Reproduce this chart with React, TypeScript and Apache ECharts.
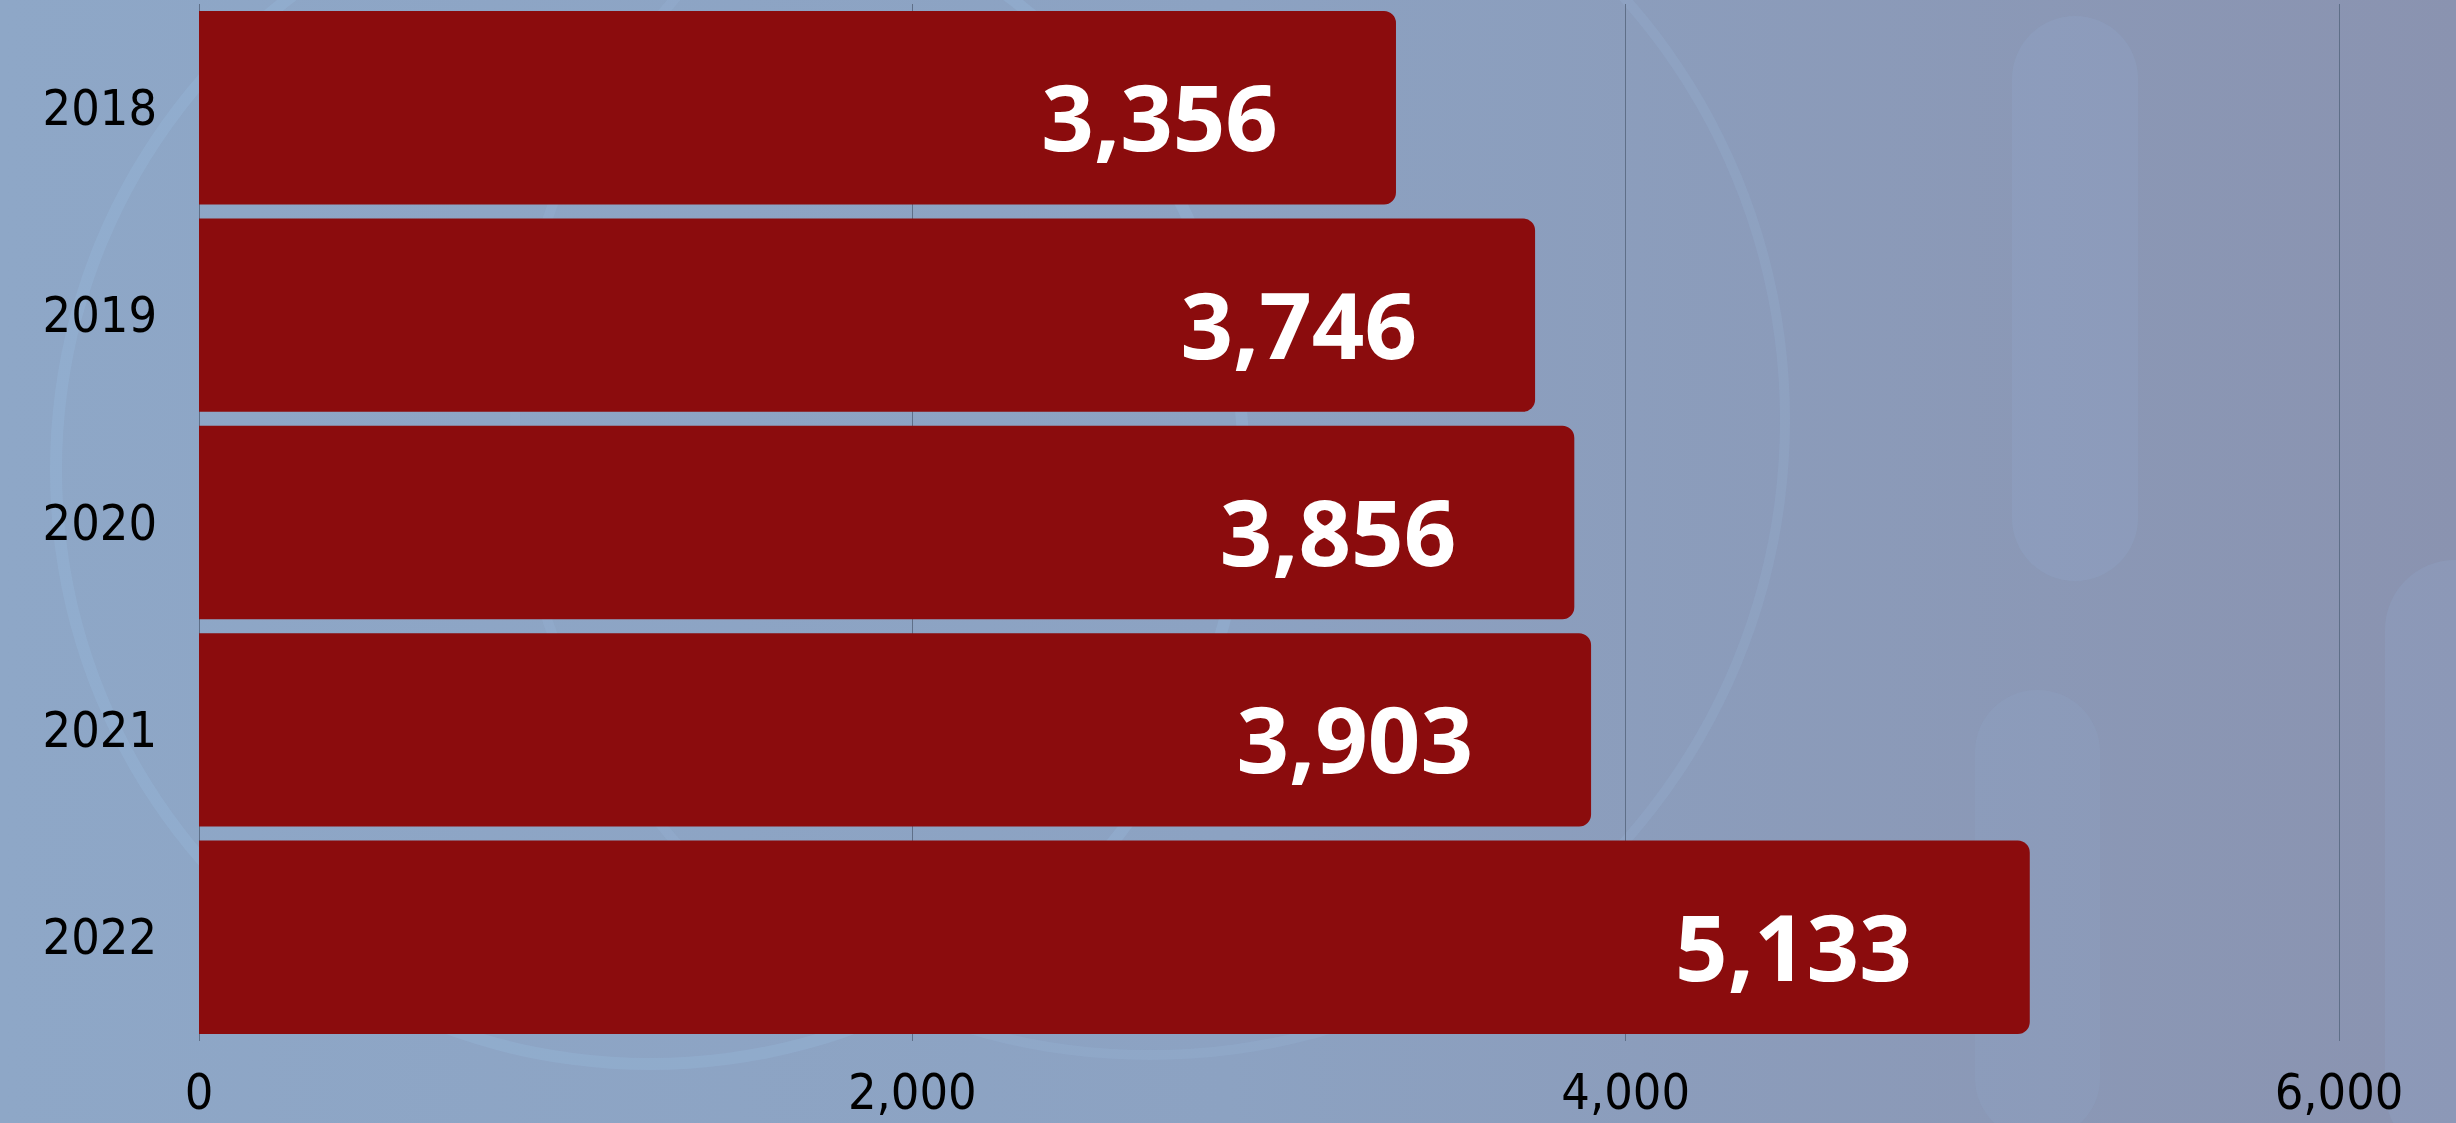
import React, { useEffect, useRef } from "react";
import * as echarts from "echarts";

const years = ["2018", "2019", "2020", "2021", "2022"];
const values = [3356, 3746, 3856, 3903, 5133];
const axisMin = 0;
const axisMax = 6000;
const axisStep = 2000;

const fmt = (v: number) => Number(v).toLocaleString("en-US");
const narrow = "'Liberation Sans Narrow', 'DejaVu Sans Condensed', 'Liberation Sans', Arial, sans-serif";

export default function App() {
  const ref = useRef<HTMLDivElement>(null);
  useEffect(() => {
    if (!ref.current) return;
    const chart = echarts.init(ref.current, null, { renderer: "svg" });
    chart.setOption({
      animation: false,
      backgroundColor: {
        type: "linear",
        x: 0,
        y: 0,
        x2: 1,
        y2: 0,
        colorStops: [
          { offset: 0, color: "#8ea7c7" },
          { offset: 0.5, color: "#8ca2c2" },
          { offset: 1, color: "#8a93b0" },
        ],
      },
      graphic: [
        {
          type: "ring",
          silent: true,
          z: -10,
          shape: { cx: 650, cy: 470, r: 600, r0: 588 },
          style: { fill: "rgba(160,200,235,0.2)" },
        },
        {
          type: "ring",
          silent: true,
          z: -10,
          shape: { cx: 1150, cy: 420, r: 640, r0: 630 },
          style: { fill: "rgba(160,200,235,0.14)" },
        },
        {
          type: "rect",
          silent: true,
          z: -10,
          shape: { x: 2012, y: 16, width: 126, height: 565, r: 63 },
          style: { fill: "rgba(150,180,215,0.18)" },
        },
        {
          type: "rect",
          silent: true,
          z: -10,
          shape: { x: 1975, y: 690, width: 125, height: 450, r: 62 },
          style: { fill: "rgba(150,180,215,0.14)" },
        },
        {
          type: "rect",
          silent: true,
          z: -10,
          shape: { x: 2385, y: 560, width: 140, height: 600, r: 70 },
          style: { fill: "rgba(150,180,215,0.18)" },
        },
      ],
      grid: { left: 199, right: 117, top: 4, bottom: 82, containLabel: false },
      xAxis: {
        type: "value",
        min: axisMin,
        max: axisMax,
        interval: axisStep,
        axisLine: { show: false },
        axisTick: { show: false },
        splitLine: { show: true, lineStyle: { color: "#5f6f88", width: 1 } },
        axisLabel: {
          formatter: (v: number) => fmt(v),
          color: "#000",
          fontSize: 50,
          fontFamily: narrow,
          margin: 26,
        },
      },
      yAxis: {
        type: "category",
        data: years,
        inverse: true,
        axisLine: { show: false },
        axisTick: { show: false },
        splitLine: { show: false },
        axisLabel: {
          color: "#000",
          fontSize: 50,
          fontFamily: narrow,
          margin: 42,
        },
      },
      series: [
        {
          type: "bar",
          data: values,
          barCategoryGap: "6.75%",
          itemStyle: { color: "#8b0c0d", borderRadius: [0, 12, 12, 0] },
          label: {
            show: true,
            position: "insideRight",
            distance: 118,
            offset: [0, 8],
            formatter: (p: any) => fmt(p.value),
            color: "#ffffff",
            fontSize: 92,
            fontWeight: "bold",
            fontFamily: "'Open Sans', sans-serif",
          },
        },
      ],
    });
    return () => chart.dispose();
  }, []);
  return (
    <div
      ref={ref}
      style={{ position: "fixed", left: 0, top: 0, width: 2456, height: 1123 }}
    />
  );
}
